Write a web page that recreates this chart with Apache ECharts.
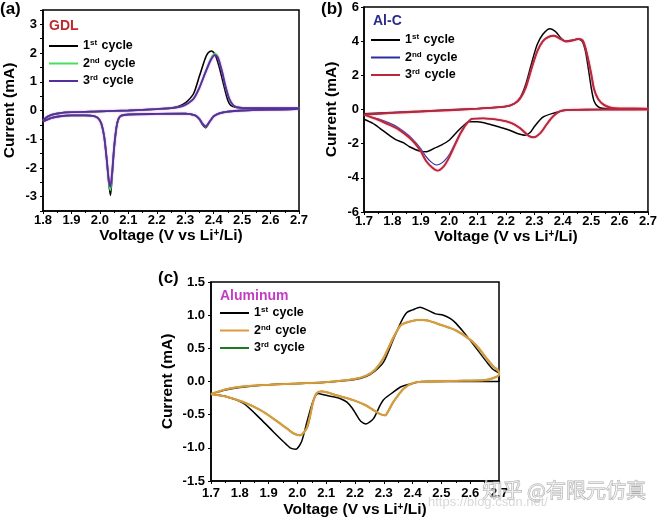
<!DOCTYPE html>
<html><head><meta charset="utf-8">
<script src="https://cdn.jsdelivr.net/npm/echarts@6/dist/echarts.min.js"></script>
<style>html,body{margin:0;padding:0;background:#fff}#c{width:660px;height:520px}</style>
</head><body><div id="c"></div>
<script>
// ---------- Panel (a) GDL : [voltage V, current mA] loop ----------
var gdlCycle1 = [[1.8,-0.36],[1.81,-0.25],[1.83,-0.15],[1.86,-0.09],[1.9,-0.06],[2.0,-0.03],[2.1,0.0],[2.2,0.05],[2.26,0.1],[2.29,0.2],[2.31,0.35],[2.33,0.6],[2.35,1.2],[2.37,1.8],[2.38,2.0],[2.393,2.07],[2.405,1.95],[2.42,1.5],[2.43,1.1],[2.44,0.7],[2.45,0.35],[2.46,0.18],[2.48,0.11],[2.52,0.09],[2.6,0.08],[2.7,0.08],
  [2.7,0.05],[2.6,0.03],[2.5,0.0],[2.45,-0.04],[2.42,-0.1],[2.4,-0.2],[2.385,-0.4],[2.372,-0.6],[2.36,-0.48],[2.35,-0.3],[2.335,-0.17],[2.3,-0.11],[2.2,-0.12],[2.1,-0.14],[2.075,-0.18],[2.065,-0.3],[2.058,-0.6],[2.05,-1.3],[2.043,-2.3],[2.037,-2.96],[2.031,-2.5],[2.024,-1.7],[2.015,-0.9],[2.005,-0.45],[1.995,-0.28],[1.98,-0.2],[1.95,-0.17],[1.9,-0.17],[1.86,-0.2],[1.83,-0.26],[1.8,-0.38]];
var gdlCycle2 = [[1.8,-0.36],[1.81,-0.25],[1.83,-0.15],[1.86,-0.09],[1.9,-0.06],[2.0,-0.03],[2.1,0.0],[2.2,0.05],[2.26,0.09],[2.29,0.15],[2.31,0.25],[2.33,0.42],[2.35,0.8],[2.37,1.3],[2.39,1.8],[2.405,1.99],[2.415,1.87],[2.43,1.35],[2.44,0.9],[2.455,0.4],[2.47,0.17],[2.49,0.1],[2.52,0.08],[2.6,0.08],[2.7,0.08],
  [2.7,0.05],[2.6,0.03],[2.5,0.0],[2.45,-0.04],[2.42,-0.1],[2.4,-0.2],[2.385,-0.4],[2.372,-0.57],[2.36,-0.46],[2.35,-0.3],[2.335,-0.17],[2.3,-0.11],[2.2,-0.12],[2.1,-0.14],[2.075,-0.18],[2.065,-0.3],[2.058,-0.6],[2.05,-1.3],[2.043,-2.2],[2.037,-2.78],[2.031,-2.45],[2.024,-1.7],[2.015,-0.9],[2.005,-0.45],[1.995,-0.28],[1.98,-0.2],[1.95,-0.17],[1.9,-0.17],[1.86,-0.2],[1.83,-0.26],[1.8,-0.38]];
var gdlCycle3 = [[1.8,-0.36],[1.81,-0.25],[1.83,-0.15],[1.86,-0.09],[1.9,-0.06],[2.0,-0.03],[2.1,0.0],[2.2,0.05],[2.26,0.09],[2.29,0.15],[2.31,0.25],[2.33,0.42],[2.35,0.8],[2.37,1.3],[2.39,1.76],[2.405,1.93],[2.415,1.83],[2.43,1.33],[2.44,0.9],[2.455,0.4],[2.47,0.17],[2.49,0.1],[2.52,0.08],[2.6,0.08],[2.7,0.08],
  [2.7,0.05],[2.6,0.03],[2.5,0.0],[2.45,-0.04],[2.42,-0.1],[2.4,-0.2],[2.385,-0.4],[2.372,-0.55],[2.36,-0.45],[2.35,-0.3],[2.335,-0.17],[2.3,-0.11],[2.2,-0.12],[2.1,-0.14],[2.075,-0.18],[2.065,-0.3],[2.058,-0.6],[2.05,-1.3],[2.043,-2.15],[2.037,-2.65],[2.031,-2.4],[2.024,-1.7],[2.015,-0.9],[2.005,-0.45],[1.995,-0.28],[1.98,-0.2],[1.95,-0.17],[1.9,-0.17],[1.86,-0.2],[1.83,-0.26],[1.8,-0.38]];

// ---------- Panel (b) Al-C ----------
var alcCycle1 = [[1.7,-0.25],[1.8,-0.17],[1.9,-0.1],[2.0,-0.02],[2.1,0.06],[2.2,0.18],[2.23,0.35],[2.25,0.7],[2.27,1.5],[2.29,2.7],[2.31,3.8],[2.33,4.4],[2.355,4.72],[2.375,4.55],[2.395,4.15],[2.41,4.0],[2.43,4.05],[2.455,4.12],[2.47,3.95],[2.48,3.4],[2.49,2.4],[2.5,1.3],[2.51,0.5],[2.525,0.15],[2.54,0.07],[2.6,0.05],[2.7,0.05],
  [2.7,0.02],[2.5,0.0],[2.42,-0.03],[2.4,-0.08],[2.37,-0.2],[2.33,-0.45],[2.3,-1.0],[2.285,-1.35],[2.268,-1.5],[2.24,-1.4],[2.21,-1.2],[2.17,-1.0],[2.14,-0.85],[2.1,-0.72],[2.07,-0.72],[2.05,-0.95],[2.034,-1.2],[2.0,-1.8],[1.97,-2.1],[1.95,-2.25],[1.92,-2.47],[1.9,-2.45],[1.86,-2.18],[1.84,-1.95],[1.81,-1.75],[1.78,-1.4],[1.756,-1.1],[1.73,-0.8],[1.7,-0.57]];
var alcCycle2 = [[1.7,-0.3],[1.8,-0.2],[1.9,-0.12],[2.0,-0.04],[2.1,0.05],[2.2,0.18],[2.23,0.35],[2.25,0.65],[2.27,1.3],[2.29,2.4],[2.31,3.4],[2.33,4.0],[2.35,4.25],[2.37,4.32],[2.39,4.15],[2.41,3.98],[2.43,4.02],[2.455,4.13],[2.47,4.05],[2.48,3.6],[2.49,2.9],[2.5,2.1],[2.51,1.2],[2.525,0.6],[2.545,0.27],[2.57,0.1],[2.6,0.06],[2.7,0.05],
  [2.7,0.0],[2.5,-0.01],[2.42,-0.02],[2.4,-0.05],[2.38,-0.2],[2.36,-0.5],[2.34,-0.95],[2.32,-1.4],[2.298,-1.6],[2.28,-1.52],[2.25,-1.1],[2.22,-0.8],[2.18,-0.62],[2.12,-0.52],[2.08,-0.55],[2.058,-0.88],[2.04,-1.35],[2.023,-1.9],[2.0,-2.65],[1.98,-3.05],[1.955,-3.25],[1.935,-3.05],[1.918,-2.75],[1.9,-2.3],[1.88,-1.9],[1.86,-1.55],[1.82,-1.05],[1.79,-0.8],[1.75,-0.55],[1.7,-0.32]];
var alcCycle3 = [[1.7,-0.3],[1.8,-0.2],[1.9,-0.12],[2.0,-0.04],[2.1,0.05],[2.2,0.18],[2.23,0.35],[2.25,0.65],[2.27,1.3],[2.29,2.4],[2.31,3.4],[2.33,4.0],[2.35,4.25],[2.37,4.32],[2.39,4.15],[2.41,3.98],[2.43,4.02],[2.455,4.13],[2.47,4.05],[2.48,3.6],[2.49,2.9],[2.5,2.1],[2.51,1.2],[2.525,0.6],[2.545,0.27],[2.57,0.1],[2.6,0.06],[2.7,0.05],
  [2.7,0.0],[2.5,-0.01],[2.42,-0.02],[2.4,-0.05],[2.38,-0.2],[2.36,-0.5],[2.34,-0.95],[2.32,-1.4],[2.298,-1.63],[2.28,-1.55],[2.25,-1.1],[2.22,-0.8],[2.18,-0.62],[2.12,-0.52],[2.08,-0.55],[2.058,-0.91],[2.04,-1.4],[2.023,-1.98],[2.0,-2.8],[1.98,-3.35],[1.959,-3.58],[1.94,-3.4],[1.918,-3.0],[1.9,-2.45],[1.88,-2.0],[1.86,-1.65],[1.82,-1.15],[1.79,-0.9],[1.75,-0.6],[1.7,-0.3]];

// ---------- Panel (c) Aluminum ----------
var aluCycle1 = [[1.7,-0.19],[1.75,-0.13],[1.8,-0.09],[1.9,-0.05],[2.0,-0.03],[2.1,-0.01],[2.2,0.03],[2.24,0.08],[2.27,0.16],[2.3,0.3],[2.33,0.6],[2.36,0.9],[2.38,1.04],[2.4,1.08],[2.426,1.12],[2.45,1.08],[2.48,1.02],[2.507,1.0],[2.53,0.95],[2.55,0.88],[2.576,0.75],[2.6,0.62],[2.63,0.45],[2.66,0.28],[2.68,0.18],[2.7,0.12],
  [2.7,0.0],[2.6,0.0],[2.5,0.0],[2.43,0.0],[2.4,-0.03],[2.36,-0.08],[2.333,-0.16],[2.3,-0.27],[2.287,-0.36],[2.264,-0.56],[2.238,-0.64],[2.22,-0.6],[2.206,-0.51],[2.19,-0.4],[2.172,-0.31],[2.15,-0.26],[2.125,-0.23],[2.09,-0.2],[2.073,-0.18],[2.062,-0.22],[2.05,-0.35],[2.033,-0.61],[2.015,-0.9],[1.995,-1.02],[1.975,-1.0],[1.95,-0.9],[1.917,-0.76],[1.871,-0.56],[1.813,-0.33],[1.755,-0.23],[1.7,-0.19]];
var aluCycle2 = [[1.7,-0.19],[1.75,-0.12],[1.8,-0.08],[1.9,-0.05],[2.0,-0.03],[2.1,-0.01],[2.2,0.04],[2.24,0.09],[2.27,0.18],[2.3,0.36],[2.333,0.66],[2.357,0.84],[2.38,0.89],[2.42,0.93],[2.45,0.92],[2.5,0.85],[2.55,0.77],[2.6,0.63],[2.63,0.5],[2.66,0.33],[2.68,0.23],[2.7,0.14],
  [2.7,0.1],[2.68,0.05],[2.65,0.02],[2.55,0.01],[2.45,0.0],[2.403,-0.02],[2.368,-0.11],[2.333,-0.31],[2.315,-0.45],[2.305,-0.51],[2.287,-0.49],[2.26,-0.42],[2.238,-0.36],[2.2,-0.29],[2.172,-0.25],[2.13,-0.2],[2.085,-0.15],[2.068,-0.17],[2.055,-0.3],[2.045,-0.5],[2.033,-0.7],[2.01,-0.81],[1.99,-0.79],[1.964,-0.71],[1.917,-0.56],[1.871,-0.43],[1.813,-0.31],[1.755,-0.23],[1.7,-0.19]];
var aluCycle3 = aluCycle2; // hidden under the 2nd cycle in the figure

var cycleLabels = ['1{s|st} cycle', '2{s|nd} cycle', '3{s|rd} cycle'];
var xNameText = 'Voltage (V vs Li{s|+}/Li)';
var yNameText = 'Current (mA)';

var FONT = '"Liberation Sans", Arial, Helvetica, sans-serif';
var chart = echarts.init(document.getElementById('c'), null, {renderer: 'canvas'});

var grids = [
  {left: 43, top: 10, width: 256, height: 201},
  {left: 364, top: 7, width: 287, height: 205},
  {left: 211, top: 282, width: 288, height: 199}
];
var xCfg = [
  {min: 1.8, max: 2.7, labelMargin: 3, nameGap: 12},
  {min: 1.7, max: 2.7, labelMargin: 3, nameGap: 14},
  {min: 1.7, max: 2.7, labelMargin: 6, nameGap: 21}
];
var yCfg = [
  {min: -3.5, max: 3.5, interval: 0.5, fmt: function (v) { return Math.abs(v - Math.round(v)) < 1e-6 ? String(Math.round(v)) : ''; }, labelMargin: 6, nameGap: 25},
  {min: -6, max: 6, interval: 2, fmt: function (v) { return String(v); }, labelMargin: 5, nameGap: 24},
  {min: -1.5, max: 1.5, interval: 0.5, fmt: function (v) { return v.toFixed(1); }, labelMargin: 6, nameGap: 35}
];

var supRich = {
  s: {fontSize: 8, fontWeight: 'bold', fontFamily: FONT, color: '#000', verticalAlign: 'top', lineHeight: 8, padding: [0, 1, 0, 0]}
};

var option = {
  backgroundColor: '#fff',
  animation: false,
  grid: grids.map(function (g) { return Object.assign({show: true, borderColor: '#000', borderWidth: 1.5, backgroundColor: 'transparent'}, g); }),
  xAxis: xCfg.map(function (c, i) {
    return {
      type: 'value', gridIndex: i, min: c.min, max: c.max, interval: 0.1,
      name: xNameText, nameLocation: 'middle', nameGap: c.nameGap,
      nameTextStyle: {fontFamily: FONT, fontWeight: 'bold', fontSize: 15.5, color: '#000', rich: {s: {fontSize: 10, fontWeight: 'bold', fontFamily: FONT, color: '#000', verticalAlign: 'top', lineHeight: 10}}},
      axisLine: {show: true, onZero: false, lineStyle: {color: '#000', width: 1.5}},
      axisTick: {show: true, inside: false, length: 3, lineStyle: {color: '#000', width: 1}},
      minorTick: {show: true, splitNumber: 2, length: 2, lineStyle: {color: '#000'}},
      axisLabel: {fontFamily: FONT, fontWeight: 'bold', fontSize: 13, color: '#000', margin: c.labelMargin,
        formatter: function (v) { return v.toFixed(1); }},
      splitLine: {show: false}
    };
  }),
  yAxis: yCfg.map(function (c, i) {
    return {
      type: 'value', gridIndex: i, min: c.min, max: c.max, interval: c.interval,
      name: yNameText, nameLocation: 'middle', nameGap: c.nameGap, nameRotate: 90,
      nameTextStyle: {fontFamily: FONT, fontWeight: 'bold', fontSize: 15.5, color: '#000'},
      axisLine: {show: true, onZero: false, lineStyle: {color: '#000', width: 1.5}},
      axisTick: {show: true, inside: false, length: 3, lineStyle: {color: '#000', width: 1}},
      axisLabel: {fontFamily: FONT, fontWeight: 'bold', fontSize: 13, color: '#000', margin: c.labelMargin, formatter: c.fmt},
      splitLine: {show: false}
    };
  }),
  legend: [
    {id: 'la', data: ['a1', 'a2', 'a3'], left: 49, top: 39},
    {id: 'lb', data: ['b1', 'b2', 'b3'], left: 371, top: 33},
    {id: 'lc', data: ['c1', 'c2', 'c3'], left: 220, top: 306}
  ].map(function (l) {
    return Object.assign({
      orient: 'vertical', icon: 'rect', itemWidth: 29, itemHeight: 2, itemGap: 3.5, padding: 0,
      selectedMode: false,
      formatter: function (n) { return cycleLabels[parseInt(n.charAt(1), 10) - 1]; },
      textStyle: {fontFamily: FONT, fontWeight: 'bold', fontSize: 12.5, color: '#000', lineHeight: 14, rich: supRich}
    }, l);
  }),
  graphic: [
    {type: 'text', left: 0, top: 1, style: {text: '(a)', font: 'bold 17px ' + FONT, fill: '#000'}},
    {type: 'text', left: 321, top: 1, style: {text: '(b)', font: 'bold 17px ' + FONT, fill: '#000'}},
    {type: 'text', left: 158, top: 270, style: {text: '(c)', font: 'bold 17px ' + FONT, fill: '#000'}},
    {type: 'text', left: 49, top: 19, style: {text: 'GDL', font: 'bold 14px ' + FONT, fill: '#c0282d'}},
    {type: 'text', left: 373, top: 14, style: {text: 'Al-C', font: 'bold 14px ' + FONT, fill: '#2a2a8c'}},
    {type: 'text', left: 220, top: 289, style: {text: 'Aluminum', font: 'bold 14px ' + FONT, fill: '#c43cc4'}},
    {type: 'text', left: 482, top: 480, z: 100, style: {text: '知乎 @有限元仿真', font: '20px "Noto Sans CJK SC", sans-serif', fill: 'rgba(255,255,255,0.55)', stroke: 'rgba(150,150,150,0.75)', lineWidth: 1}},
    {type: 'text', left: 428, top: 496, z: 100, style: {text: 'https://blog.csdn.net/', font: '13px ' + FONT, fill: 'rgba(190,190,190,0.6)'}}
  ],
  series: []
};

function addSeries(name, data, idx, color, width, shadow) {
  option.series.push({
    name: name, type: 'line', xAxisIndex: idx, yAxisIndex: idx, data: data,
    showSymbol: false, symbol: 'none', smooth: 0.25, clip: true,
    lineStyle: Object.assign({color: color, width: width}, shadow ? {shadowColor: shadow, shadowBlur: 2} : {}),
    itemStyle: {color: color}, z: 2
  });
}
addSeries('a1', gdlCycle1, 0, '#000000', 1.6);
addSeries('a2', gdlCycle2, 0, '#44e060', 1.8);
addSeries('a3', gdlCycle3, 0, '#55309c', 1.8, 'rgba(200,60,220,0.6)');
addSeries('b1', alcCycle1, 1, '#000000', 1.5);
addSeries('b2', alcCycle2, 1, '#2c2ca0', 1.2);
addSeries('b3', alcCycle3, 1, '#b8283a', 1.9, 'rgba(240,120,150,0.7)');
addSeries('c1', aluCycle1, 2, '#000000', 1.5);
addSeries('c3', aluCycle3, 2, '#1e7a1e', 1.8);
addSeries('c2', aluCycle2, 2, '#dd9a3c', 1.8, 'rgba(240,200,140,0.7)');

chart.setOption(option);
</script>
</body></html>
